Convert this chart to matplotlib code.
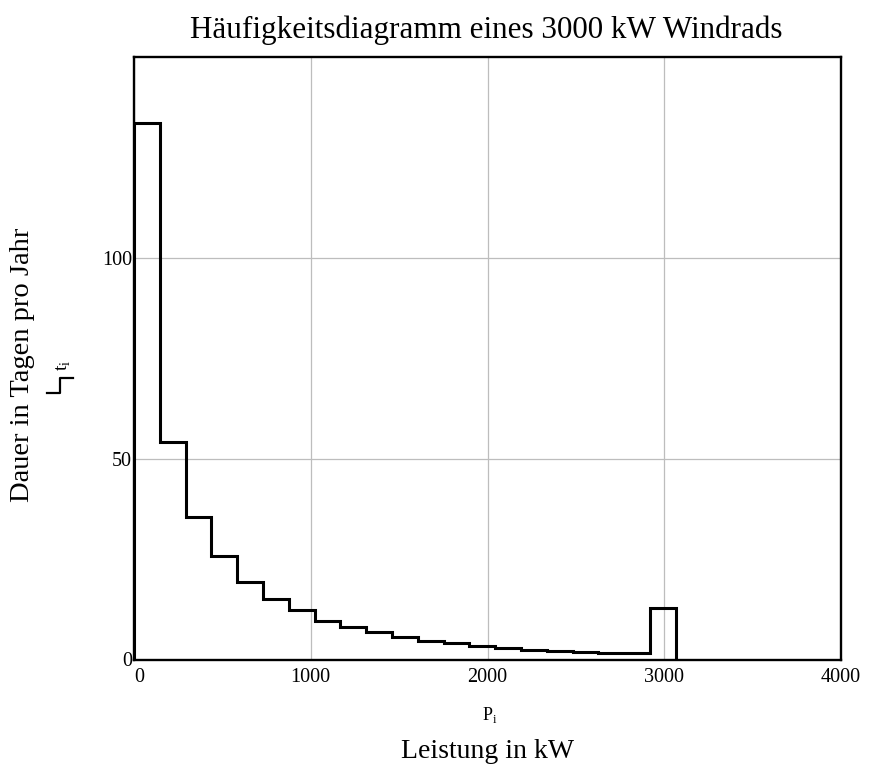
import matplotlib
matplotlib.use("Agg")
import matplotlib.pyplot as plt
from matplotlib.lines import Line2D
import numpy as np

# Leistungsklassen (Grenzen in kW) und Dauer in Tagen pro Jahr
P_edges = [0, 146, 292, 438, 584, 730, 876, 1022, 1168, 1314, 1460, 1606,
           1752, 1898, 2044, 2190, 2336, 2482, 2628, 2774, 2920, 3066]
t_days = [133.4, 54.2, 35.4, 25.7, 19.4, 15.1, 12.3, 9.7, 8.0, 6.8, 5.5,
          4.7, 4.2, 3.4, 2.8, 2.3, 2.0, 1.9, 1.7, 1.6, 12.7]

x_ticks = [0, 1000, 2000, 3000, 4000]
y_ticks = [0, 50, 100]

plt.rcParams['font.family'] = ['Liberation Serif', 'DejaVu Serif']

W, H = 869, 771
fig = plt.figure(figsize=(W / 100, H / 100), dpi=100, facecolor='white')
ax = fig.add_axes([134 / W, 1 - 659.5 / H, (841 - 134) / W, (659.5 - 56.7) / H])

ax.stairs(t_days, P_edges, baseline=0, color='black', linewidth=2.2, zorder=3)

ax.set_xlim(0, 4000)
ax.set_ylim(0, 150)
ax.set_xticks(x_ticks)
ax.set_yticks(y_ticks)
ax.grid(True, color='#bdbdbd', linewidth=0.9)
ax.set_axisbelow(True)
ax.tick_params(length=0, labelsize=14.5)
ax.tick_params(axis='x', pad=6)
ax.tick_params(axis='y', pad=1.5)
ax.get_xticklabels()[0].set_ha('left')
for s in ax.spines.values():
    s.set_linewidth(1.7)
    s.set_color('black')

# Texte
fig.text(486 / W, 1 - 30 / H, 'Häufigkeitsdiagramm eines 3000 kW Windrads',
         ha='center', va='center', fontsize=22.4)
fig.text(490 / W, 1 - 715 / H, r'P$_\mathregular{i}$', ha='center', va='center', fontsize=13)
fig.text(488 / W, 1 - 752 / H, 'Leistung in kW', ha='center', va='center', fontsize=20)
fig.text(23 / W, 1 - 365 / H, 'Dauer in Tagen pro Jahr', ha='center', va='center',
         rotation=90, fontsize=20.5)

# Trace-Symbol fuer t_i
fig.text(64 / W, 1 - 365 / H, r't$_\mathregular{i}$', ha='center', va='center',
         rotation=90, fontsize=14)
xs = np.array([47, 60, 60, 73]) / W
ys = 1 - np.array([392.7, 392.7, 378.3, 378.3]) / H
fig.add_artist(Line2D(xs, ys, color='black', linewidth=1.6))

fig.savefig('out.png', dpi=100, facecolor='white')
